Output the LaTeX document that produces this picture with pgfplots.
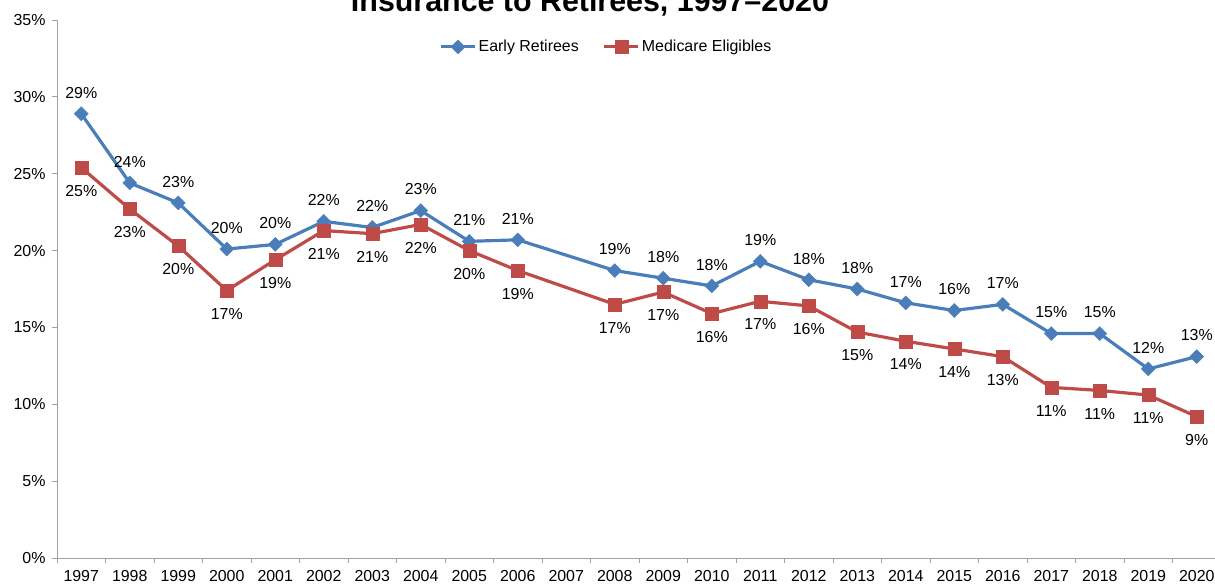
\documentclass[border=0pt]{standalone}
\usepackage{pgfplots}
\pgfplotsset{compat=1.18}
\usepackage{fontspec}
\setmainfont{Liberation Sans}
\definecolor{erblue}{HTML}{4A7EBB}
\definecolor{mered}{HTML}{BE4B48}
\definecolor{axgray}{HTML}{A0A0A0}
% x index: 0 = 1997 ... 23 = 2020 (2007 = 10 has no data)
\begin{document}
\begin{tikzpicture}[x=1bp,y=1bp]
\begin{axis}[
  at={(57bp,28bp)}, anchor=south west,
  scale only axis, width=1164bp, height=538bp,
  xmin=-0.5, xmax=23.5, ymin=0, ymax=35,
  axis x line*=bottom, axis y line*=left,
  axis line style={axgray, line width=1pt},
  every tick/.style={axgray, line width=1pt},
  xtick={0,...,23},
  xticklabels={1997,1998,1999,2000,2001,2002,2003,2004,2005,2006,2007,2008,2009,2010,2011,2012,2013,2014,2015,2016,2017,2018,2019,2020},
  major x tick style={draw=none},
  minor xtick={-0.5,0.5,...,23.5},
  minor tick length=5bp,
  ytick={0,5,...,35},
  major tick length=5bp,
  tick align=outside,
  yticklabel={\pgfmathprintnumber{\tick}\%},
  /pgf/number format/assume math mode=true,
  tick label style={font=\fontsize{16}{19}\selectfont, black},
  xticklabel style={yshift=-4bp},
  yticklabel style={xshift=-3bp},
  clip=false,
  legend columns=2,
  legend style={at={(0.472,0.95)}, anchor=center, draw=none, fill=none,
    font=\fontsize{16}{19}\selectfont, column sep=0bp,
    /tikz/every even column/.append style={column sep=22bp}},
  legend image code/.code={
    \draw[#1, mark=none] (0bp,0bp) -- (34bp,0bp);
    \draw[#1, only marks] plot coordinates {(17bp,0bp)};
  },
  nodes near coords={\pgfmathprintnumber{\pgfplotspointmeta}\%},
  point meta=explicit,
]
\addplot[color=erblue, line width=3.2pt, mark=square*, mark size=4.9bp,
  mark options={solid, line width=0.5pt, rotate=45},
  nodes near coords style={font=\fontsize{16}{19}\selectfont, black, anchor=south, yshift=12bp, rotate=0}]
  table[x=x, y=y, meta=l] {
x y l
0 28.9 29
1 24.4 24
2 23.1 23
3 20.1 20
4 20.4 20
5 21.9 22
6 21.5 22
7 22.6 23
8 20.6 21
9 20.7 21
11 18.7 19
12 18.2 18
13 17.7 18
14 19.3 19
15 18.1 18
16 17.5 18
17 16.6 17
18 16.1 16
19 16.5 17
20 14.6 15
21 14.6 15
22 12.3 12
23 13.1 13
};
\addlegendentry{Early Retirees}
\addplot[color=mered, line width=3.2pt, mark=square*, mark size=6.5bp,
  mark options={solid, line width=0.5pt},
  nodes near coords style={font=\fontsize{16}{19}\selectfont, black, anchor=north, yshift=-14bp}]
  table[x=x, y=y, meta=l] {
x y l
0 25.4 25
1 22.7 23
2 20.3 20
3 17.4 17
4 19.4 19
5 21.3 21
6 21.1 21
7 21.7 22
8 20.0 20
9 18.7 19
11 16.5 17
12 17.3 17
13 15.9 16
14 16.7 17
15 16.4 16
16 14.7 15
17 14.1 14
18 13.6 14
19 13.1 13
20 11.1 11
21 10.9 11
22 10.6 11
23 9.2 9
};
\addlegendentry{Medicare Eligibles}
\end{axis}
\node[anchor=base, font=\fontsize{30.5}{34}\selectfont\bfseries] at (590bp,574bp) {Insurance to Retirees, 1997–2020};
\pgfresetboundingbox
\useasboundingbox (0,0) rectangle (1215bp,586bp);
\end{tikzpicture}
\end{document}
